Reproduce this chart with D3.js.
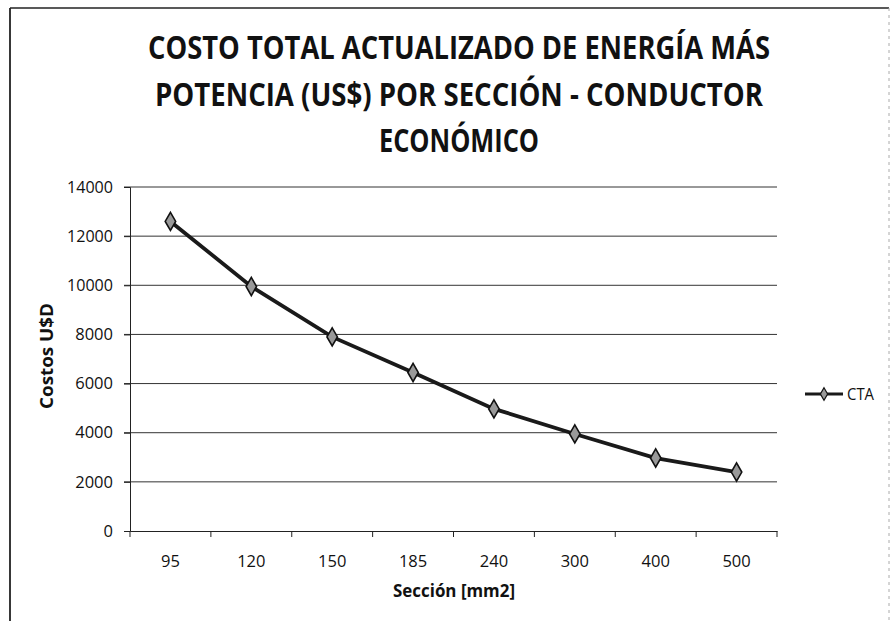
<!DOCTYPE html>
<html><head><meta charset="utf-8">
<script src="https://cdn.jsdelivr.net/npm/d3@7/dist/d3.min.js"></script>
<style>body{margin:0;background:#fff}svg{display:block}</style>
</head><body>
<svg id="c" width="891" height="623"></svg>
<script>
const categories = ["95","120","150","185","240","300","400","500"];
const ctaValues = [12600, 9950, 7900, 6450, 4970, 3950, 2970, 2400];
const yTicks = [0,2000,4000,6000,8000,10000,12000,14000];
const seriesName = "CTA";
const titleLines = ["COSTO TOTAL ACTUALIZADO DE ENERGÍA MÁS","POTENCIA (US$) POR SECCIÓN - CONDUCTOR","ECONÓMICO"];

const font = "'Open Sans','Roboto',sans-serif";
const svg = d3.select("#c");
// chart border (top/left dark, right faint)
svg.append("line").attr("x1",10).attr("x2",889).attr("y1",8).attr("y2",8).attr("stroke","#222").attr("stroke-width",1.5);
svg.append("line").attr("x1",10).attr("x2",10).attr("y1",8).attr("y2",621).attr("stroke","#222").attr("stroke-width",1.8);
svg.append("line").attr("x1",889).attr("x2",889).attr("y1",8).attr("y2",621).attr("stroke","#aaa").attr("stroke-width",1).attr("stroke-dasharray","3,4");

const L=130,R=777,T=187,B=531;
const x = d3.scaleBand().domain(categories).range([L,R]);
const y = d3.scaleLinear().domain([0,14000]).range([B,T]);

// title
const titleW=[622,608,160];
const tg = svg.append("g");
titleLines.forEach((t,i)=>{
  tg.append("text").attr("x",459).attr("y",59+i*46.5).attr("text-anchor","middle")
    .attr("font-family",font).attr("font-weight","bold").attr("font-size",32)
    .attr("fill","#111").attr("textLength",titleW[i]).attr("lengthAdjust","spacingAndGlyphs").text(t);
});

// gridlines
svg.append("g").selectAll("line").data(yTicks.filter(d=>d>0)).join("line")
  .attr("x1",L-6).attr("x2",R).attr("y1",d=>y(d)).attr("y2",d=>y(d))
  .attr("stroke","#333").attr("stroke-width",1);

// y axis
const ya = svg.append("g").attr("transform",`translate(${L},0)`)
  .call(d3.axisLeft(y).tickValues(yTicks).tickSize(6).tickPadding(11).tickFormat(d3.format("d")));
ya.select(".domain").attr("stroke","#222");
ya.selectAll(".tick line").attr("stroke","#222");
ya.selectAll("text").attr("font-family",font).attr("font-size",16.5).attr("fill","#111")
  .attr("textLength",46).attr("lengthAdjust","spacingAndGlyphs");
ya.selectAll(".tick text").each(function(d){ if(String(d).length<5) d3.select(this).attr("textLength",null); });

// x axis
const xa = svg.append("g").attr("transform",`translate(0,${B})`)
  .call(d3.axisBottom(x).tickSize(0).tickPadding(24));
xa.select(".domain").attr("stroke","#222");
xa.selectAll("text").attr("font-family",font).attr("font-size",16.5).attr("fill","#111");
const bounds = categories.map(c=>x(c)).concat([R]);
svg.append("g").selectAll("line").data(bounds).join("line")
  .attr("x1",d=>d).attr("x2",d=>d).attr("y1",B).attr("y2",B+6).attr("stroke","#222");

// axis titles
svg.append("text").attr("transform","translate(53,356) rotate(-90)").attr("text-anchor","middle")
  .attr("font-family",font).attr("font-weight","bold").attr("font-size",18).attr("fill","#111")
  .attr("textLength",106).attr("lengthAdjust","spacingAndGlyphs").text("Costos U$D");
svg.append("text").attr("x",454).attr("y",597).attr("text-anchor","middle")
  .attr("font-family",font).attr("font-weight","bold").attr("font-size",18).attr("fill","#111")
  .attr("textLength",122).attr("lengthAdjust","spacingAndGlyphs").text("Sección [mm2]");

// line
const cx = c=>x(c)+x.bandwidth()/2;
const data = categories.map((c,i)=>({c,v:ctaValues[i]}));
svg.append("path").datum(data)
  .attr("d",d3.line().x(d=>cx(d.c)).y(d=>y(d.v)))
  .attr("fill","none").attr("stroke","#1a1a1a").attr("stroke-width",3.8);
const diamond = d3.symbol().type(d3.symbolDiamond).size(95);
svg.append("g").selectAll("path").data(data).join("path")
  .attr("d",diamond).attr("transform",d=>`translate(${cx(d.c)},${y(d.v)})`)
  .attr("fill","#999").attr("stroke","#111").attr("stroke-width",1.6);

// legend
const lg = svg.append("g").attr("transform","translate(805,394)");
lg.append("line").attr("x1",0).attr("x2",38).attr("stroke","#1a1a1a").attr("stroke-width",3);
lg.append("path").attr("d",d3.symbol().type(d3.symbolDiamond).size(45)).attr("transform","translate(19,0)")
  .attr("fill","#999").attr("stroke","#111").attr("stroke-width",1.2);
lg.append("text").attr("x",42).attr("y",6).attr("font-family",font).attr("font-size",16).attr("fill","#111")
  .attr("textLength",27).attr("lengthAdjust","spacingAndGlyphs").text(seriesName);
</script>
</body></html>
